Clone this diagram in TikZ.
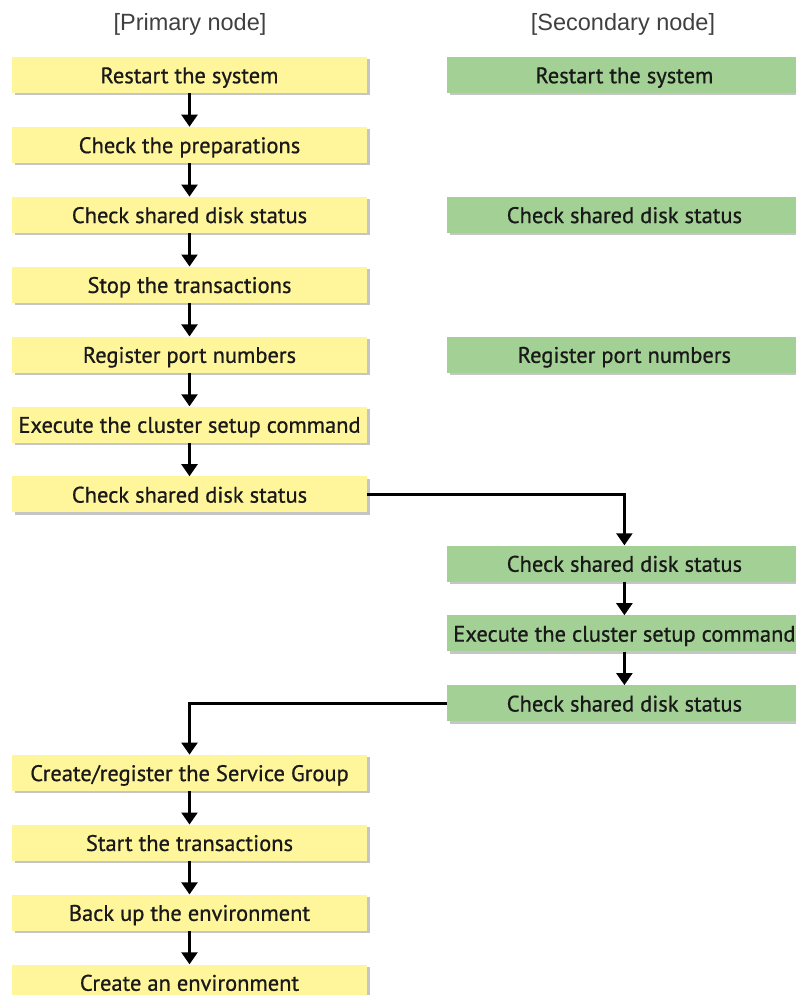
\documentclass[tikz,border=0pt]{standalone}
\usepackage{fontspec}
\setmainfont{PT Sans}[FakeBold=0.7]
\newfontfamily\headfont{Liberation Sans}
\usetikzlibrary{arrows.meta,positioning,shadows}
\definecolor{stepyellow}{HTML}{FFF59A}
\definecolor{stepgreen}{HTML}{A3D094}

\begin{document}
\begin{tikzpicture}[
  x=1pt, y=1pt,
  font=\fontsize{22.5}{26}\selectfont,
  pbox/.style={fill=stepyellow, minimum width=355pt, minimum height=36pt, inner sep=0pt, text=black!90,
    text height=17pt, text depth=0.5pt,
    drop shadow={shadow xshift=2.5pt, shadow yshift=-2.5pt, fill=black!45, opacity=.5}},
  sbox/.style={pbox, fill=stepgreen, minimum width=354pt},
  arrow/.style={-{Triangle[width=16pt,length=12pt]}, line width=2.4pt},
  head/.style={font=\headfont\fontsize{23.5}{27}\selectfont, text=black!75}
]
\useasboundingbox (0,0) rectangle (795,-995);

\node[head] (hprim) at (190,-24) {[Primary node]};
\node[head] (hsec) at (623,-24) {[Secondary node]};

% primary node
\node[pbox] (prestart) at (189.5,-75) {Restart the system};
\node[pbox, below=33.5pt of prestart] (prep) {Check the preparations};
\node[pbox, below=33.5pt of prep] (pdisk) {Check shared disk status};
\node[pbox, below=33.5pt of pdisk] (stop) {Stop the transactions};
\node[pbox, below=33.5pt of stop] (pport) {Register port numbers};
\node[pbox, below=33.5pt of pport] (psetup) {Execute the cluster setup command};
\node[pbox, below=33.5pt of psetup] (pcheck) {Check shared disk status};
\node[pbox, below=242pt of pcheck] (sg) {Create/register the Service Group};
\node[pbox, below=33.5pt of sg] (start) {Start the transactions};
\node[pbox, below=33.5pt of start] (backup) {Back up the environment};
\node[pbox, below=33.5pt of backup] (env) {Create an environment};

% secondary node
\node[sbox, right=80pt of prestart] (srestart) {Restart the system};
\node[sbox, right=80pt of pdisk] (sdisk) {Check shared disk status};
\node[sbox, right=80pt of pport] (sport) {Register port numbers};
\node[sbox, below=172.5pt of sport] (scheck) {Check shared disk status};
\node[sbox, below=33.5pt of scheck] (ssetup) {Execute the cluster setup command};
\node[sbox, below=33.5pt of ssetup] (sdone) {Check shared disk status};

\draw[arrow] (prestart) -- (prep);
\draw[arrow] (prep) -- (pdisk);
\draw[arrow] (pdisk) -- (stop);
\draw[arrow] (stop) -- (pport);
\draw[arrow] (pport) -- (psetup);
\draw[arrow] (psetup) -- (pcheck);
\draw[arrow] (pcheck.east) -| (scheck.north);
\draw[arrow] (scheck) -- (ssetup);
\draw[arrow] (ssetup) -- (sdone);
\draw[arrow] (sdone.west) -| (sg.north);
\draw[arrow] (sg) -- (start);
\draw[arrow] (start) -- (backup);
\draw[arrow] (backup) -- (env);

\end{tikzpicture}
\end{document}
